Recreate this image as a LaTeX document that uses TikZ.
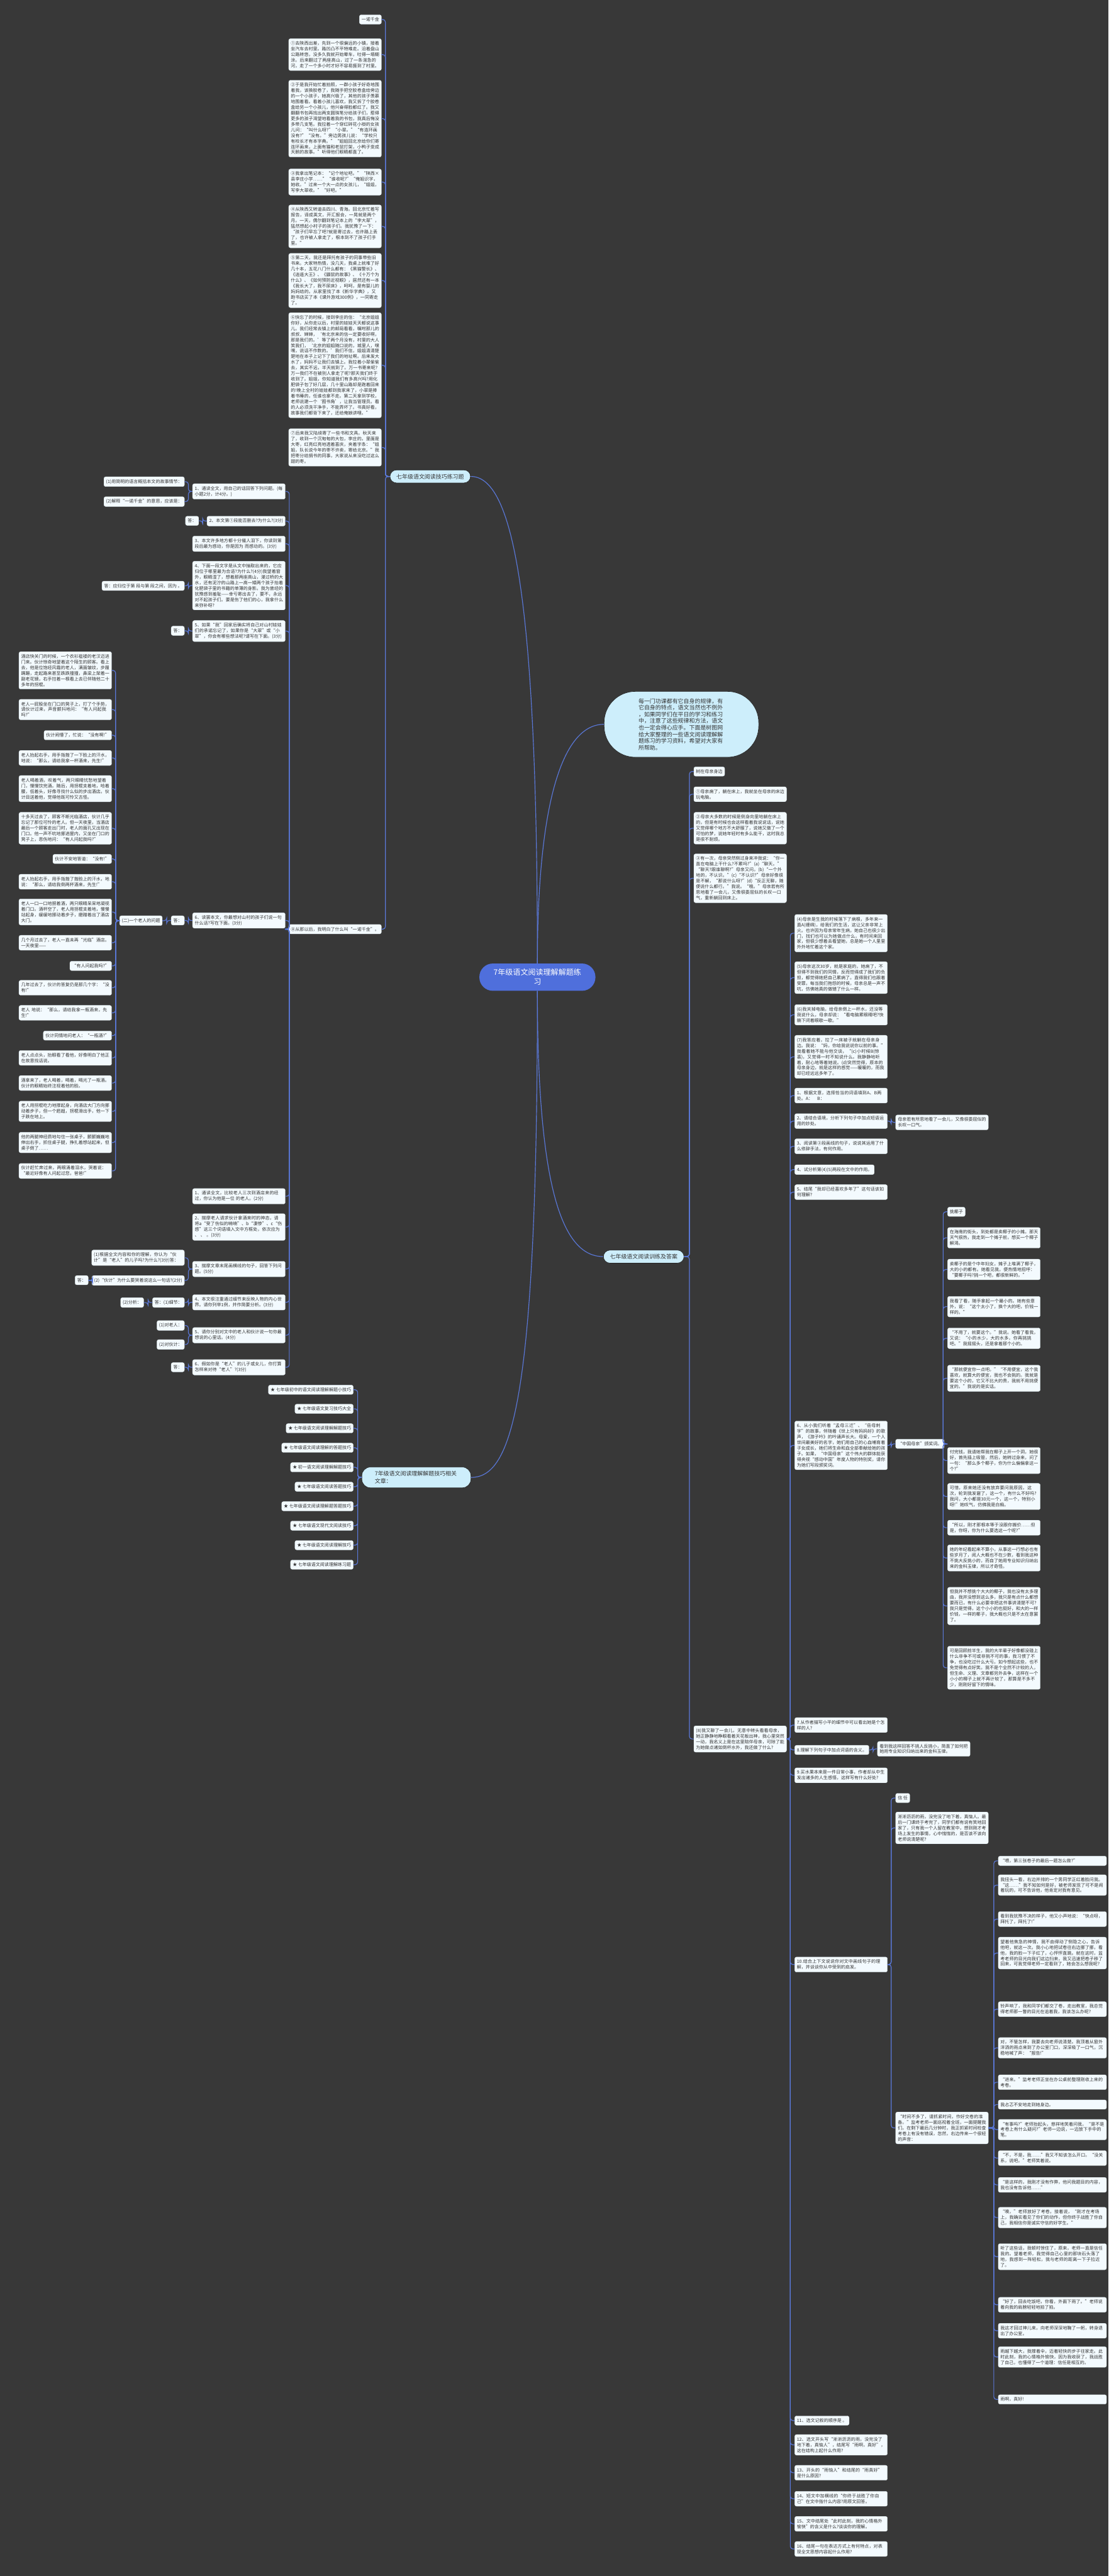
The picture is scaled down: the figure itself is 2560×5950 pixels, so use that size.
\documentclass[tikz,border=0pt]{standalone}
\usepackage{fontspec}
\newfontfamily\cjk{Noto Sans CJK SC}
\XeTeXlinebreaklocale "zh"
\XeTeXlinebreakskip=0pt plus 0.5pt
\definecolor{bgc}{HTML}{383838}
\definecolor{linec}{HTML}{5A78D8}
\definecolor{boxc}{HTML}{F3FAFE}
\definecolor{boxd}{HTML}{D8E4EA}
\definecolor{txtc}{HTML}{333333}
\definecolor{brc}{HTML}{CDEEFB}
\definecolor{cenc}{HTML}{4F6FDC}
\tikzset{
 box/.style={draw=boxd, line width=0.5pt, fill=boxc, rounded corners=4pt, inner xsep=5pt, inner ysep=6pt, font=\cjk\fontsize{10.2}{13}\selectfont, text=txtc, align=left},
 tw/.style={text width=204pt},
 twb/.style={text width=240pt},
 branch/.style={draw=black!85, line width=1pt, fill=brc, rounded corners=15pt, inner xsep=15pt, minimum height=30pt, font=\cjk\fontsize{13}{18}\selectfont, text=txtc},
 conn/.style={draw=linec, line width=1.7pt, rounded corners=6pt},
 ne/.style={anchor=north east},
 nw/.style={anchor=north west}
}
\newcommand{\connL}[3]{\draw[conn] (#1.west) -- (#1.west -| #3) |- (#2.east);}
\newcommand{\connR}[3]{\draw[conn] (#1.east) -- (#1.east -| #3) |- (#2.west);}
\begin{document}
\begin{tikzpicture}[x=1pt,y=-1pt]
\fill[bgc] (0,0) rectangle (2560,5950);
\useasboundingbox (0,0) rectangle (2560,5950);
% bus coordinates
\coordinate (bL1) at (890,0);
\coordinate (b8) at (668,0);
\coordinate (bQ) at (435,0);
\coordinate (bQ2) at (468,0);
\coordinate (bOld) at (385,0);
\coordinate (bStory) at (267,0);
\coordinate (bA3) at (214,0);
\coordinate (bA4) at (342,0);
\coordinate (bL3) at (826,0);
\coordinate (bR2) at (1592,0);
\coordinate (bE) at (1825,0);
\coordinate (bE2) at (2058,0);
\coordinate (bE8) at (2016,0);
\coordinate (bMom) at (2178,0);
\coordinate (bTime) at (2295,0);

% center and branches
\node[fill=cenc, text=white, rounded corners=31pt, minimum width=268pt, minimum height=63pt, font=\cjk\fontsize{17.5}{22}\selectfont, align=center] (c) at (1241,2257) {7年级语文阅读理解解题练\\习};
\node[branch, nw] (L1) at (900,1085) {七年级语文阅读技巧练习题};
\node[branch, nw] (R2) at (1393,2887) {七年级语文阅读训练及答案};
\node[branch, nw, text width=192pt, inner xsep=30pt, inner ysep=9pt, rounded corners=20pt, align=left] (L3) at (835,3388) {7年级语文阅读理解解题技巧相关\\文章：};
\node[draw=black!85, line width=1pt, fill=brc, rounded corners=72pt, minimum width=357pt, minimum height=152pt, text width=198pt, align=left, font=\cjk\fontsize{13}{15.4}\selectfont, text=txtc] (intro) at (1573.5,1673) {每一门功课都有它自身的规律，有\\它自身的特点，语文当然也不例外\\，如果同学们在平日的学习和练习\\中，注意了这些规律和方法，语文\\也一定会得心应手。下面是树图网\\给大家整理的一些语文阅读理解解\\题练习的学习资料，希望对大家有\\所帮助。};

\draw[conn] (c.north) .. controls (1241,1350) and (1180,1100) .. (L1.east);
\draw[conn] (c.north) .. controls (1241,1850) and (1300,1673) .. (intro.west);
\draw[conn] (c.south) .. controls (1241,2750) and (1300,2902) .. (R2.west);
\draw[conn] (c.south) .. controls (1241,3250) and (1180,3412) .. (L3.east);

% ===== L1 children =====
\node[box, ne] (n0) at (881,34) {一诺千金};
\node[box, tw, ne] (n1) at (881,89) {①去陕西出差，先到一个很偏远的小镇，接着坐汽车去村里。路凹凸不平特难走。沿着盘山公路转悠，没多久我就开始晕车，吐得一塌糊涂。后来翻过了两座高山，过了一条湍急的河，走了一个多小时才好不容易捱到了村里。};
\node[box, tw, ne] (n2) at (881,185) {②于是我开始忙着拍照，一群小孩子好奇地围着我，该换胶卷了，我随手把空胶卷盒给旁边的一个小孩子，她高兴极了，其他的孩子羡慕地围着看。看着小孩儿喜欢，我又拆了个胶卷盒给另一个小孩儿，他兴奋得脸都红了。我又翻翻书包再找出两支圆珠笔分给孩子们，惹得更多的孩子渴望地看着我的书包，我真后悔没多带几支笔。我拉着一个穿红碎花小褂的女孩儿问：“叫什么呀?”“小翠。”“有连环画没有?”“没有。”旁边男孩儿说：“学校只有校长才有本字典。”“姐姐回北京给你们寄连环画来，上面有猫和老鼠打架，小鸭子变成天鹅的故事。”听得他们眼睛都直了。};
\node[box, tw, ne] (n3) at (881,390) {③我拿出笔记本：“记个地址吧。”“陕西×县李庄小学……”“谁收呢?”“俺姐识字，她收。”过来一个大一点的女孩儿，“姐姐，写李大翠收。”“好吧。”};
\node[box, tw, ne] (n4) at (881,473) {④从陕西又转道去四川、青海。回北京忙着写报告，译成英文，开汇报会，一晃就是两个月。一天，偶尔翻到笔记本上的“李大翠”，猛然想起小村子的孩子们。我犹豫了一下：“孩子们早忘了吧?就是寄过去，也许路上丢了，也许被人拿走了，根本到不了孩子们手里。”};
\node[box, tw, ne] (n5) at (881,585) {⑤第二天，我还是拜托有孩子的同事带些旧书来。大家特热情，没几天，我桌上就堆了好几十本，五花八门什么都有：《黑猫警长》、《逍遥大王》、《鼹鼠的故事》、《十万个为什么》、《如何预防近视眼》，居然还有一本《我长大了，我不尿床》，呵呵，是有婴儿的妈妈给的。从家里找了本《新华字典》，又跑书店买了本《课外游戏300例》，一同寄走了。};
\node[box, tw, ne] (n6) at (881,722) {⑥快忘了的时候，接到李庄的信：“北京姐姐你好，从你走以后，村里的娃娃天天都说这事儿。我们经常去镇上的邮局看看，嘱咐那儿的叔叔、婶婶，‘有北京来的信一定要收好啊，那是我们的。’等了两个月没有，村里的大人笑我们，‘北京的姐姐随口说的，城里人，嘿嘿，说话不作数的。’我们不信，姐姐清清楚楚地在本子上记下了我们的地址啊。后来发大水了，妈妈不让我们去镇上。我拉着小翠偷偷去，其实不远，半天就到了。万一书寄来呢?万一我们不在被别人拿走了呢?那天我们终于收到了。姐姐，你知道我们有多高兴吗?用化肥袋子包了好几层，几十里山路却是跑着回来的!晚上全村的娃娃都到我家来了，小翠是捧着书睡的，任谁也拿不走。第二天拿到学校，老师说建一个‘图书角’，让我当管理员。看的人必须洗干净手，不能弄坏了。书真好看，故事我们都背下来了，还给俺娘讲哩。”};
\node[box, tw, ne] (n7) at (881,990) {⑦后来我又陆续寄了一些书和文具。秋天来了，收到一个沉甸甸的大包，李庄的。里面是大枣，红亮红亮地透着喜庆，夹着字条：“姐姐，队长说今年的枣不许卖，寄给北京。”我把枣分给捐书的同事，大家说从来没吃过这么甜的枣。};
\node[box, ne] (n8) at (881,2135) {⑧从那以后，我明白了什么叫“一诺千金”。};
\foreach \k in {0,...,8} {\connL{L1}{n\k}{bL1}}

% ===== n8 children (questions) =====
\node[box, tw, ne] (q1) at (659,1117) {1、通读全文，用自己的话回答下列问题。(每小题2分，计4分。)};
\node[box, ne] (q1a) at (426,1101) {(1)用简明的语言概括本文的故事情节：};
\node[box, ne] (q1b) at (426,1147) {(2)解释“一诺千金”的意思，应该是：};
\node[box, ne] (q2) at (659,1192) {2、本文第①段能否删去?为什么?(3分)};
\node[box, ne] (q2a) at (459,1192) {答：};
\node[box, tw, ne] (q3) at (659,1238) {3、本文许多地方都十分催人泪下，你读到第 段后最为感动，你是因为 而感动的。(3分)};
\node[box, tw, ne] (q4) at (659,1296) {4、下面一段文字是从文中抽取出来的，它应归位于哪里最为合适?为什么?(4分)我望着窗外，眼睛湿了，想着那两座高山，漫过桥的大水，还有泥泞的山路上一高一矮两个孩子抬着化肥袋子里的书籍的单薄的身影。我为曾经的犹豫感到羞耻——幸亏寄出去了，要不，永远对不起孩子们。要是伤了他们的心，我拿什么来弥补呀?};
\node[box, ne] (q4a) at (426,1342) {答：应归位于第 段与第 段之间，因为 。};
\node[box, tw, ne] (q5) at (659,1433) {5、如果“我”回家后确实将自己对山村娃娃们的承诺忘记了，如果你是“大翠”或“小翠”，你会有哪些想法呢?请写在下面。(3分)};
\node[box, ne] (q5a) at (426,1446) {答：};
\node[box, tw, ne] (q6) at (659,2108) {6、读罢本文，你最想对山村的孩子们说一句什么话?写在下面。(3分)};
\node[box, ne] (q6a) at (426,2115) {答：};
\node[box, ne] (old) at (375,2115) {(二)一个老人的问题};
\node[box, tw, ne] (s1) at (659,2745) {1、通读全文，比较老人三次到酒店来的经过，你认为他是一位 的老人。(2分)};
\node[box, tw, ne] (s2) at (659,2803) {2、揣摩老人请求伙计拿酒来时的神态，请将a“受了伤似的喃喃”、b“凄惨”、c“伤感”这三个词语填入文中方框处，依次应为 、 、 。(3分)};
\node[box, tw, ne] (s3) at (659,2913) {3、揣摩文章末尾画横线的句子，回答下列问题。(5分)};
\node[box, tw, ne] (s3a) at (426,2887) {(1)根据全文内容和你的理解，你认为“伙计”是“老人”的儿子吗?为什么?(3分)答：};
\node[box, ne] (s3b) at (426,2946) {(2)“伙计”为什么要哭着说这么一句话?(2分)};
\node[box, ne] (s3c) at (204,2946) {答：};
\node[box, tw, ne] (s4) at (659,2990) {4、本文很注重通过细节来反映人物的内心世界。请你列举1例，并作简要分析。(3分)};
\node[box, ne] (s4a) at (426,2997) {答：(1)细节：};
\node[box, ne] (s4b) at (332,2997) {(2)分析：};
\node[box, tw, ne] (s5) at (659,3066) {5、请你分别对文中的老人和伙计说一句你最想说的心里话。(4分)};
\node[box, ne] (s5a) at (426,3050) {(1)对老人：};
\node[box, ne] (s5b) at (426,3094) {(2)对伙计：};
\node[box, tw, ne] (s6) at (659,3140) {6、假如你是“老人”的儿子或女儿，你打算怎样来对待“老人”?(3分)};
\node[box, ne] (s6a) at (426,3147) {答：};
\foreach \q in {q1,q2,q3,q4,q5,q6,s1,s2,s3,s4,s5,s6} {\connL{n8}{\q}{b8}}
\connL{q1}{q1a}{bQ} \connL{q1}{q1b}{bQ}
\connL{q2}{q2a}{bQ2}
\connL{q4}{q4a}{bQ} \connL{q5}{q5a}{bQ} \connL{q6}{q6a}{bQ}
\connL{q6a}{old}{bOld}
\connL{s3}{s3a}{bQ} \connL{s3}{s3b}{bQ} \connL{s3b}{s3c}{bA3}
\connL{s4}{s4a}{bQ} \connL{s4a}{s4b}{bA4}
\connL{s5}{s5a}{bQ} \connL{s5}{s5b}{bQ} \connL{s6}{s6a}{bQ}

% ===== story: an old man =====
\node[box, tw, ne] (p1) at (258,1505) {酒店快关门的时候，一个衣衫褴褛的老汉迈进门来。伙计惊奇地望着这个陌生的顾客。看上去，他是位饱经风霜的老人，满面皱纹，步履蹒跚，走起路来甚至跌跌撞撞，鼻梁上架着一副老花镜，右手拄着一根看上去已伴随他二十多年的拐棍。};
\node[box, tw, ne] (p2) at (258,1615) {老人一屁股坐在门口的凳子上，打了个手势，请伙计过来，声音颤抖地问：“有人问起我吗?”};
\node[box, ne] (p3) at (258,1687) {伙计闹懵了，忙说：“没有啊!”};
\node[box, tw, ne] (p4) at (258,1733) {老人抬起右手，用手指揩了一下脸上的汗水，地说：“那么，请给我拿一杯酒来，先生!”};
\node[box, tw, ne] (p5) at (258,1791) {老人喝着酒，叹着气，两只眼睛忧愁地望着门，慢慢饮完酒。随后，用拐棍支着地，哈着腰，低着头，好像寻找什么似的步出酒店。伙计目送着他，觉得他既可怜又古怪。};
\node[box, tw, ne] (p6) at (258,1876) {十多天过去了，顾客不断光临酒店，伙计几乎忘记了那位可怜的老人。但一天夜里，当酒店最后一个顾客走出门时，老人的面孔又出现在门口。他一声不吭地挪进屋内，又坐在门口的凳子上，悲伤地问：“有人问起我吗?”};
\node[box, ne] (p7) at (258,1973) {伙计不安地答道：“没有!”};
\node[box, tw, ne] (p8) at (258,2019) {老人抬起右手，用手指揩了揩脸上的汗水，地说：“那么，请给我倒两杯酒来，先生!”};
\node[box, tw, ne] (p9) at (258,2076) {老人一口一口地抿着酒，两只眼睛呆呆地凝视着门口。酒杯空了，老人用拐棍支着地，慢慢站起身，缓缓地挪动着步子，磨蹭着出了酒店大门。};
\node[box, tw, ne] (p10) at (258,2160) {几个月过去了，老人一直未再“光临”酒店。一天夜里——};
\node[box, ne] (p11) at (258,2220) {“有人问起我吗?”};
\node[box, tw, ne] (p12) at (258,2264) {几年过去了，伙计的答复仍是那几个字：“没有!”};
\node[box, tw, ne] (p13) at (258,2322) {老人 地说：“那么，请给我拿一瓶酒来，先生!”};
\node[box, ne] (p14) at (258,2381) {伙计同情地问老人：“一瓶酒?”};
\node[box, tw, ne] (p15) at (258,2426) {老人点点头，抬眼看了看他，好像明白了他正在故意找话说。};
\node[box, tw, ne] (p16) at (258,2484) {酒拿来了，老人喝着，喝着，喝光了一瓶酒。伙计的眼睛始终注视着他的脸。};
\node[box, tw, ne] (p17) at (258,2543) {老人用拐棍吃力地撑起身，向酒店大门方向挪动着步子，但一个趔趄，拐棍滑出手，他一下子跌在地上。};
\node[box, tw, ne] (p18) at (258,2615) {他的两腿神经质地勾住一张桌子，颤颤巍巍地伸出右手，抓住桌子腿，挣扎着想站起来，但桌子倒了……};
\node[box, tw, ne] (p19) at (258,2687) {伙计赶忙奔过来，两眼涌着泪水，哭着说：“最近好像有人问起过您，爸爸!”};
\foreach \k in {1,...,19} {\connL{old}{p\k}{bStory}}

% ===== L3 list =====
\node[box, ne] (t1) at (816,3199) {★ 七年级初中的语文阅读理解解题小技巧};
\node[box, ne] (t2) at (816,3243) {★ 七年级语文复习技巧大全};
\node[box, ne] (t3) at (816,3288) {★ 七年级语文阅读理解解题技巧};
\node[box, ne] (t4) at (816,3333) {★ 七年级语文阅读理解的答题技巧};
\node[box, ne] (t5) at (816,3378) {★ 初一语文阅读理解解题技巧};
\node[box, ne] (t6) at (816,3423) {★ 七年级语文阅读答题技巧};
\node[box, ne] (t7) at (816,3468) {★ 七年级语文阅读理解题答题技巧};
\node[box, ne] (t8) at (816,3513) {★ 七年级语文现代文阅读技巧};
\node[box, ne] (t9) at (816,3558) {★ 七年级语文阅读理解技巧};
\node[box, ne] (t10) at (816,3603) {★ 七年级语文阅读理解练习题};
\foreach \k in {1,...,10} {\connL{L3}{t\k}{bL3}}

% ===== R2 children =====
\node[box, nw] (ra) at (1602,1771) {树在母亲身边};
\node[box, tw, nw] (rb) at (1602,1817) {①母亲病了，躺在床上，我就坐在母亲的床边玩电脑。};
\node[box, tw, nw] (rc) at (1602,1876) {②母亲大多数的时候是侧身向里地躺在床上的，但是有时候也会这样看着我说说话，说她又觉得哪个地方不大舒服了，说她又做了一个可怕的梦，说她年轻时有多么能干，这时我总是很不耐烦。};
\node[box, tw, nw] (rd) at (1602,1972) {③有一次，母亲突然侧过身来冲我说：“你一直在电脑上干什么?不累吗?”(a)“聊天。”“聊天?跟谁聊啊?”母亲又问。(b)“一个外地的，不认识。”(c)“不认识?”母亲好像很是不解，“那说什么呀?”(d)“反正无聊，随便说什么都行。”我说。“哦。”母亲若有所思地看了一会儿，又像很委屈似的长叹一口气，重新躺回到床上。};
\node[box, tw, nw] (re) at (1602,3986) {(8)我又聊了一会儿，无意中转头看看母亲，她正静静地睁眼看着天花板出神，我心里突然一动，我名义上是在这里陪伴母亲，可除了能为她做点诸如倒杯水外，我还做了什么?};
\foreach \k in {ra,rb,rc,rd,re} {\connR{R2}{\k}{bR2}}

% ===== re children =====
\node[box, tw, nw] (e4) at (1835,2112) {(4)母亲是生我的时候落下了病根，多年来一直A(缠绵)，给我们的生活，这让父亲非常上火。也许因为母亲常年生病，她自己也很少出门，找们也可以为她做点什么，有时间来回家，但很少想着去看望她，总是她一个人里里外外地忙着这个家。};
\node[box, tw, nw] (e5) at (1835,2221) {(5)母亲这次30岁，就是家庭的，她病了，不但得不到我们的同情，反而觉得成了我们的负担，都觉得她把自己累病了。直得我们也跟着受罪，每当我们抱怨的时候，母亲总是一声不吭，仿佛她真的做错了什么一样。};
\node[box, tw, nw] (e6) at (1835,2320) {(6)我关掉电脑，给母亲倒上一杯水，还没等我说什么，母亲却说：“看电脑累眼睛吧?快躺下闭着眼歇一歇。”};
\node[box, tw, nw] (e7) at (1835,2391) {(7)我答应着，拉了一床被子就躺在母亲身边。我说：“妈，你给我说说你以前的事。”我看着她不能与他交谈，“(c)小时候B(惊喜)，又觉得一时不知说什么。我静静地听着，耐心地等着她说。(d)突然觉得，原本的母亲身边，就是这样的感觉——暖暖的，而我却已经远远多年了。};
\node[box, tw, nw] (e11) at (1835,2513) {1、根据文意，选择恰当的词语填到A、B两处。A：\quad B：};
\node[box, tw, nw] (e12) at (1835,2572) {2、请结合语境，分析下列句子中加点短语运用的妙处。};
\node[box, tw, nw] (e13) at (1835,2630) {3、阅读第③段画线的句子，说说其运用了什么修辞手法，有何作用。};
\node[box, nw] (e14) at (1835,2690) {4、试分析第(4)(5)两段在文中的作用。};
\node[box, tw, nw] (e15) at (1835,2736) {5、结尾“我却已经喜欢多年了”这句话该如何理解?};
\node[box, tw, nw] (e16) at (1835,3282) {6、从小我们听着“孟母三迁”、“岳母刺字”的故事，伴随着《世上只有妈妈好》的歌声，《游子吟》的吟诵声长大。母爱，一个人世间最美好的名字，她们用自己的心血哺育着子女成长，她们将生命和血全部奉献给她的孩子。如果，“中国母亲”这个伟大的群体能获得央视“感动中国”年度人物的特别奖，请你为她们写段颁奖词。};
\node[box, tw, nw] (e17) at (1835,3967) {7.从作者描写小平的细节中可以看出她是个怎样的人?};
\node[box, nw] (e18) at (1835,4031) {8.理解下列句子中加点词语的含义。};
\node[box, tw, nw] (e19) at (1835,4083) {9.买水果本来是一件日常小事，作者却从中生发出诸多的人生感悟，这样写有什么好处?};
\node[box, tw, nw] (e20) at (1835,4520) {10.结合上下文说说你对文中画线句子的理解，并谈谈你从中受到的启发。};
\node[box, nw] (e21) at (1835,5580) {11、选文记叙的顺序是 。};
\node[box, tw, nw] (e22) at (1835,5623) {12、选文开头写“淅淅沥沥的雨，没完没了地下着，真恼人”，结尾写“雨啊，真好”，这在结构上起什么作用?};
\node[box, tw, nw] (e23) at (1835,5694) {13、开头的“雨恼人”和结尾的“雨真好”是什么原因?};
\node[box, tw, nw] (e24) at (1835,5754) {14、短文中加横线的“你终于战胜了你自己”在文中指什么内容?用原文回答。};
\node[box, tw, nw] (e25) at (1835,5812) {15、文中结尾处“此时此刻，我的心情格外愉快”的含义是什么?谈谈你的理解。};
\node[box, tw, nw] (e26) at (1835,5870) {16、结尾一句在表达方式上有何特点，对表现全文思想内容起什么作用?};
\foreach \k in {e4,e5,e6,e7,e11,e12,e13,e14,e15,e16,e17,e18,e19,e20,e21,e22,e23,e24,e25,e26} {\connR{re}{\k}{bE}}

\node[box, tw, nw] (e12a) at (2068,2575) {母亲若有所思地看了一会儿，又像很委屈似的长叹一口气。};
\connR{e12}{e12a}{bE2}
\node[box, nw] (mom) at (2068,3324) {“中国母亲”颁奖词。};
\connR{e16}{mom}{bE2}
\node[box, tw, nw] (e18a) at (2026,4022) {看到我这样回答不挑人反挑小，简直了如何把她用专业知识归纳出来的金科玉律。};
\connR{e18}{e18a}{bE8}

% fruit story
\node[box, nw] (mA) at (2188,2788) {挑椰子};
\node[box, tw, nw] (mB) at (2188,2835) {在海南的街头，到处都是卖椰子的小摊。那天天气很热，我走到一个摊子前，想买一个椰子解渴。};
\node[box, tw, nw] (mC) at (2188,2908) {卖椰子的是个中年妇女，摊子上堆满了椰子，大的小的都有。她看见我，便热情地招呼：“要椰子吗?挑一个吧，都很新鲜的。”};
\node[box, tw, nw] (mD) at (2188,2994) {我看了看，随手拿起一个最小的。她有些意外，说：“这个太小了，换个大的吧，价钱一样的。”};
\node[box, tw, nw] (mE) at (2188,3067) {“不用了，就要这个。”我说。她看了看我，又说：“小的水少，大的水多，你再挑挑吧。”我摇摇头，还是拿着那个小的。};
\node[box, tw, nw] (m1) at (2188,3153) {“那就便宜你一点吧。”“不用便宜，这个我喜欢，就算大的便宜，我也不会挑的。我就是要这个小的，它又不比大的贵，我就不用挑便宜的。”我说的是实话。};
\node[box, tw, nw] (m2) at (2188,3343) {付完钱，我请她帮我在椰子上开一个洞，她很好，首先插上吸管，然后，她转过身来，问了一句：“那么多个椰子，你为什么偏偏拿这一个?”};
\node[box, tw, nw] (m3) at (2188,3426) {可惜，原来她还没有放弃要问我原因，这次，轮到我发窘了，这一个，有什么不好吗?我问，大小都是30元一个，这一个，特别小呀!”她叹气，仿佛我是白痴。};
\node[box, tw, nw] (m4) at (2188,3511) {“所以，刚才那根本等于没跟你搬价……但是，你呀，你为什么要选这一个呢?”};
\node[box, tw, nw] (m5) at (2188,3568) {她的年纪看起来不算小，从事这一行想必也有些岁月了，阅人大概也不在少数，看到我这种不挑大反挑小的，而自了她用专业知识归纳出来的金科玉律，所以才奇怪。};
\node[box, tw, nw] (m6) at (2188,3666) {但我并不想挑个大大的椰子，我也没有太多理由，我并没想到这么多，我只是有点什么都想要而已，有什么必要非把这件事讲清楚不可?我只是觉得，这个小小的也挺好，和大的一样价钱，一样的椰子，我大概也只是不太在意罢了。};
\node[box, tw, nw] (m7) at (2188,3802) {可是回顾前半生，我的大半辈子好像都没碰上什么非争不可或非挑不可的事，我习惯了不争，也没吃过什么大亏。如今想起这些，也不免觉得有点好笑。我不是个全然不计较的人，但生命、义理、文章都另外去争，这样在一个小小的椰子上就不再计较了，那算是不多不少，刚刚好留下的情味。};
\foreach \k in {mA,mB,mC,mD,mE,m1,m2,m3,m4,m5,m6,m7} {\connR{mom}{\k}{bMom}}

% trust story
\node[box, nw] (x1) at (2068,4142) {信 任};
\node[box, tw, nw] (x2) at (2068,4185) {淅淅沥沥的雨，没完没了地下着，真恼人。最后一门课终于考完了，同学们都有说有笑地回家了，只有我一个人留在教室中，想到刚才考场上发生的事情，心中惴惴的，是否该不该向老师说清楚呢?};
\node[box, tw, nw] (x3) at (2068,4878) {“时间不多了，请抓紧时间，作好交卷的准备。”监考老师一面巡视着全班，一面提醒我们。在剩下最后几分钟时，我正抓紧时间检查考卷上有没有错误，忽然，右边传来一个很轻的声音：};
\foreach \k in {1,2,3} {\connR{e20}{x\k}{bE2}}

\node[box, twb, nw] (y1) at (2305,4287) {“喂，第三张卷子的最后一题怎么做?”};
\node[box, twb, nw] (y2) at (2305,4330) {我扭头一看，右边并排的一个男同学正红着脸问我。“这……”我不知如何是好，被老师发现了可不是闹着玩的，可不告诉他，他肯定对我有意见。};
\node[box, twb, nw] (y3) at (2305,4415) {看到我犹豫不决的样子，他又小声地说：“快点呀，拜托了，拜托了!”};
\node[box, twb, nw] (y4) at (2305,4474) {望着他焦急的神情，我不由得动了恻隐之心，告诉他吧，就这一次。我小心地把试卷往右边挪了挪，看他，我的脸一下子红了，心怦怦直跳。就在这时，监考老师的目光向我们这边扫来，我又迅速把卷子移了回来，可我觉得老师一定看到了，她会怎么想我呢?};
\node[box, twb, nw] (y5) at (2305,4623) {铃声响了，我和同学们都交了卷，走出教室，我总觉得老师那一瞥的目光在追着我，我该怎么办呢?};
\node[box, twb, nw] (y6) at (2305,4706) {对，不管怎样，我要去向老师说清楚。我顶着从窗外洋洒的雨点来到了办公室门口，深深吸了一口气，沉稳地喊了声：“报告!”};
\node[box, twb, nw] (y7) at (2305,4792) {“进来。”监考老师正坐在办公桌前整理刚收上来的考卷。};
\node[box, twb, nw] (y8) at (2305,4850) {我忐忑不安地走到她身边。};
\node[box, twb, nw] (y9) at (2305,4895) {“有事吗?”老师抬起头，慈祥地笑着问我，“是不是考卷上有什么疑问?”老师一边说，一边放下手中的笔。};
\node[box, twb, nw] (y10) at (2305,4967) {“不，不是，我……”我又不知该怎么开口。“没关系，说吧。”老师笑着说。};
\node[box, twb, nw] (y11) at (2305,5029) {“是这样的，我刚才没有作弊，他问我题目的内容，我也没有告诉他……”};
\node[box, twb, nw] (y12) at (2305,5098) {“噢，”老师放好了考卷，接着说，“刚才在考场上，我确实看见了你们的动作，但你终于战胜了你自己，我相信你是诚实守信的好学生。”};
\node[box, twb, nw] (y13) at (2305,5182) {听了这些话，我顿时惊住了，原来，老师一直是信任我的。望着老师，我觉得自己心里的那块石头落了地，我感到一阵轻松，我与老师的距离一下子拉近了。};
\node[box, twb, nw] (y14) at (2305,5306) {“好了，回去吃饭吧，你看，外面下雨了。”老师说着向我的肩膀轻轻地拍了拍。};
\node[box, twb, nw] (y15) at (2305,5366) {我这才回过神儿来，向老师深深地鞠了一躬，转身退出了办公室。};
\node[box, twb, nw] (y16) at (2305,5420) {雨越下越大，我撑着伞，迈着轻快的步子往家走。此时此刻，我的心情格外愉快，因为我收获了，我战胜了自己，也懂得了一个道理：信任是相互的。};
\node[box, twb, nw] (y17) at (2305,5531) {雨啊，真好!};
\foreach \k in {1,...,17} {\connR{x3}{y\k}{bTime}}
\end{tikzpicture}
\end{document}
